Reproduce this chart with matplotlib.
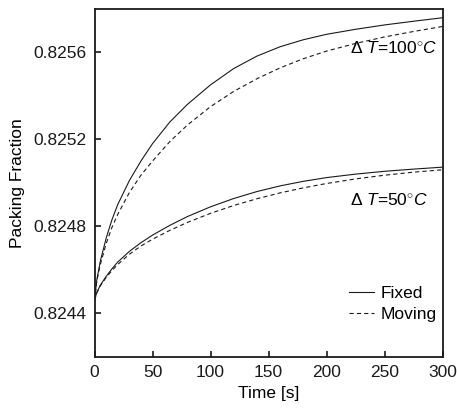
import matplotlib
matplotlib.use("Agg")
import matplotlib.pyplot as plt

plt.rcParams['font.family'] = ['Liberation Sans', 'DejaVu Sans']
plt.rcParams['mathtext.fontset'] = 'custom'
plt.rcParams['mathtext.rm'] = 'Liberation Sans'
plt.rcParams['mathtext.it'] = 'Liberation Sans:italic'

time_s = [0, 2, 5, 10, 15, 20, 30, 40, 50, 65, 80, 100, 120, 140, 160, 180, 200, 225, 250, 275, 300]
fixed_100 = [0.824460, 0.824555, 0.824640, 0.824745, 0.824830, 0.824900, 0.825010, 0.825100, 0.825180,
             0.825280, 0.825360, 0.825450, 0.825525, 0.825582, 0.825625, 0.825657, 0.825682, 0.825705,
             0.825725, 0.825742, 0.825758]
moving_100 = [0.824460, 0.824550, 0.824625, 0.824720, 0.824795, 0.824855, 0.824955, 0.825035, 0.825100,
              0.825190, 0.825265, 0.825350, 0.825420, 0.825478, 0.825528, 0.825570, 0.825605, 0.825640,
              0.825670, 0.825695, 0.825718]
fixed_50 = [0.824460, 0.824497, 0.824530, 0.824570, 0.824605, 0.824636, 0.824685, 0.824725, 0.824760,
            0.824805, 0.824845, 0.824890, 0.824928, 0.824960, 0.824986, 0.825007, 0.825024, 0.825040,
            0.825053, 0.825063, 0.825072]
moving_50 = [0.824460, 0.824495, 0.824527, 0.824565, 0.824597, 0.824625, 0.824672, 0.824710, 0.824741,
             0.824782, 0.824818, 0.824860, 0.824896, 0.824927, 0.824954, 0.824977, 0.824997, 0.825018,
             0.825035, 0.825049, 0.825060]

xticks = [0, 50, 100, 150, 200, 250, 300]
yticks = [0.8244, 0.8248, 0.8252, 0.8256]
ytick_labels = ['0.8244', '0.8248', '0.8252', '0.8256']

fig = plt.figure(figsize=(4.57, 4.09), dpi=100)
ax = fig.add_axes([0.2068, 0.127, 0.7619, 0.852])

fs = 12.5
lw = 0.8
dash = (3.8, 2.8)
col = '#1a1a1a'
ax.plot(time_s, fixed_100, color=col, lw=lw, label='Fixed')
ax.plot(time_s, moving_100, color=col, lw=lw, ls=(0, dash), label='Moving')
ax.plot(time_s, fixed_50, color=col, lw=lw)
ax.plot(time_s, moving_50, color=col, lw=lw, ls=(0, dash))

ax.set_xlim(0, 300)
ax.set_ylim(0.8242, 0.8258)
ax.set_xticks(xticks)
ax.set_xticklabels([str(v) for v in xticks])
ax.set_yticks(yticks)
ax.set_yticklabels(ytick_labels)
ax.tick_params(direction='in', length=4, width=1.2, labelsize=fs, pad=6,
               top=False, right=False, colors=col)
for s in ax.spines.values():
    s.set_linewidth(1.3)
    s.set_color(col)

ax.set_xlabel('Time [s]', fontsize=fs, labelpad=4)
ax.set_ylabel('Packing Fraction', fontsize=fs, labelpad=6)

ax.text(0.734, 0.887, r'$\Delta$ $T$=100$^{\circ}$$C$', transform=ax.transAxes,
        ha='left', va='center', fontsize=fs)
ax.text(0.734, 0.452, r'$\Delta$ $T$=50$^{\circ}$$C$', transform=ax.transAxes,
        ha='left', va='center', fontsize=fs)

leg = ax.legend(loc='center right', frameon=False, fontsize=fs, handlelength=1.44,
                handletextpad=0.4, labelspacing=0.33, borderpad=0, borderaxespad=0,
                bbox_to_anchor=(0.983, 0.152))

fig.savefig('out.png', dpi=100)
